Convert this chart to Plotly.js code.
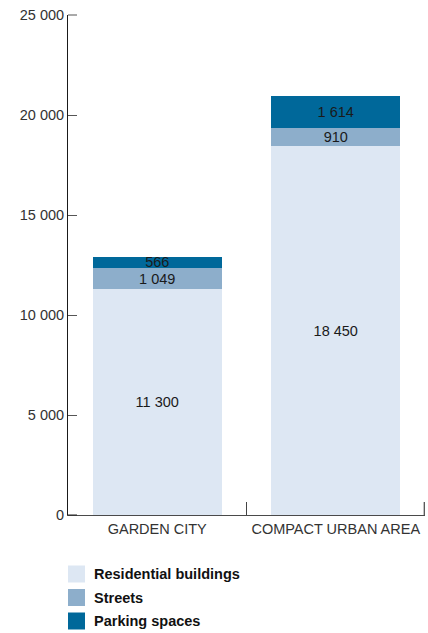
<!DOCTYPE html>
<html>
<head>
<meta charset="utf-8">
<script src="https://cdn.plot.ly/plotly-3.0.1.min.js"></script>
<style>
  html, body { margin: 0; padding: 0; background: #ffffff; }
  #chart { width: 428px; height: 633px; }
</style>
</head>
<body>
<div id="chart"></div>
<script>
// Land use per settlement type (m²), stacked by component
const categories = ["GARDEN CITY", "COMPACT URBAN AREA"];
const residential = [11300, 18450];
const streets = [1049, 910];
const parking = [566, 1614];

const seriesNames = ["Residential buildings", "Streets", "Parking spaces"];
const seriesColors = ["#dde7f3", "#8daecb", "#00689a"];

// Thousands grouped with a space, e.g. 11 300
function fmt(v) {
  return String(v).replace(/\B(?=(\d{3})+(?!\d))/g, " ");
}

const FONT = "Liberation Sans, Arial, Helvetica, sans-serif";
const W = 428, H = 633;
const M = { l: 68, r: 3, t: 15, b: 118 };
const plotW = W - M.l - M.r;
const plotH = H - M.t - M.b;
const Y_TICK_LEN = 9;

// pixel -> paper coordinate helpers for the hand-built key below the plot
const px = p => (p - M.l) / plotW;
const py = p => (H - M.b - p) / plotH;

function barTrace(values, i) {
  return {
    type: "bar",
    name: seriesNames[i],
    x: categories,
    y: values,
    text: values.map(fmt),
    textposition: "inside",
    insidetextanchor: "middle",
    constraintext: "none",
    textangle: 0,
    insidetextfont: { family: FONT, size: 14.5, color: "#1a1a1a" },
    marker: { color: seriesColors[i], line: { width: 0 } },
    hoverinfo: "skip",
    showlegend: false
  };
}

const data = [
  barTrace(residential, 0),
  barTrace(streets, 1),
  barTrace(parking, 2)
];

// Key: one coloured square and a bold label per series
const keyRows = [574, 597.5, 621];
const keySize = 17;
const shapes = seriesNames.map((name, i) => ({
  type: "rect",
  xref: "paper", yref: "paper",
  x0: px(68), x1: px(68 + keySize),
  y0: py(keyRows[i] - keySize / 2), y1: py(keyRows[i] + keySize / 2),
  fillcolor: seriesColors[i],
  line: { width: 0 },
  layer: "above"
}));
// closing category-boundary tick at the right end of the x axis
shapes.push({
  type: "line",
  xref: "paper", yref: "paper",
  x0: 0.998, x1: 0.998,
  y0: 0, y1: 13 / plotH,
  line: { color: "#444444", width: 1.2 }
});
// y ticks at both ends of the range (Plotly drops inside ticks on the plot edges)
[0, 1].forEach(yy => shapes.push({
  type: "line",
  xref: "paper", yref: "paper",
  x0: 0, x1: Y_TICK_LEN / plotW,
  y0: yy, y1: yy,
  line: { color: yy === 0 ? "#222222" : "#555555", width: 1 },
  layer: "above"
}));

const annotations = seriesNames.map((name, i) => ({
  xref: "paper", yref: "paper",
  x: px(92), y: py(keyRows[i]),
  xanchor: "left", yanchor: "middle",
  text: "<b>" + name + "</b>",
  showarrow: false,
  font: { family: FONT, size: 14.5, color: "#111111" }
}));

const layout = {
  width: W,
  height: H,
  margin: M,
  paper_bgcolor: "#ffffff",
  plot_bgcolor: "#ffffff",
  barmode: "stack",
  bargap: 0.275,
  separators: ", ",
  font: { family: FONT, size: 14.5, color: "#333333" },
  showlegend: false,
  xaxis: {
    type: "category",
    range: [-0.5, 1.5],
    showgrid: false,
    zeroline: false,
    showline: true,
    linecolor: "#4a4a4a",
    linewidth: 1.2,
    layer: "below traces",
    ticks: "inside",
    tickson: "boundaries",
    ticklen: 13,
    tickcolor: "#444444",
    tickwidth: 1.2,
    tickfont: { family: FONT, size: 14.5, color: "#333333" },
    fixedrange: true
  },
  yaxis: {
    range: [0, 25000],
    dtick: 5000,
    tick0: 0,
    tickformat: ",d",
    separatethousands: true,
    showgrid: false,
    zeroline: false,
    showline: true,
    linecolor: "#1a1a1a",
    linewidth: 1,
    ticks: "inside",
    ticklen: Y_TICK_LEN,
    tickcolor: "#555555",
    tickwidth: 1,
    tickfont: { family: FONT, size: 14.5, color: "#333333" },
    fixedrange: true
  },
  shapes: shapes,
  annotations: annotations
};

Plotly.newPlot("chart", data, layout, { displayModeBar: false, staticPlot: true });
</script>
</body>
</html>
